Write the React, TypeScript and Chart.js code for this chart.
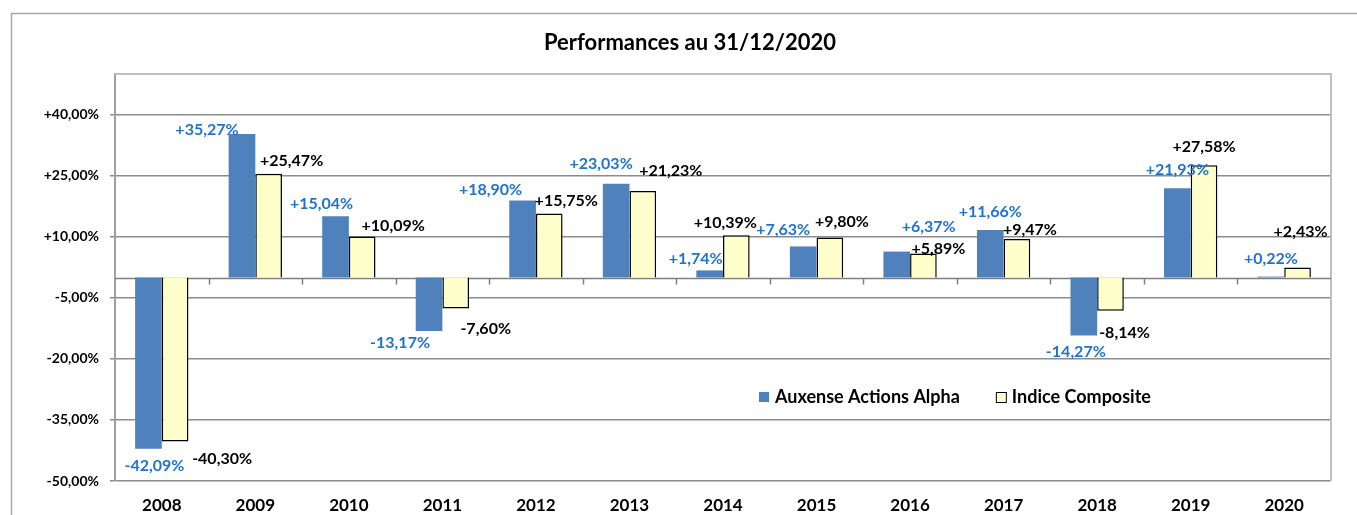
import React, { useEffect, useRef } from "react";
import { Chart, registerables } from "chart.js";

Chart.register(...registerables);

// ---- data ----
const YEARS = ["2008", "2009", "2010", "2011", "2012", "2013", "2014", "2015", "2016", "2017", "2018", "2019", "2020"];
const ALPHA = [-42.09, 35.27, 15.04, -13.17, 18.9, 23.03, 1.74, 7.63, 6.37, 11.66, -14.27, 21.93, 0.22];
const INDICE = [-40.3, 25.47, 10.09, -7.6, 15.75, 21.23, 10.39, 9.8, 5.89, 9.47, -8.14, 27.58, 2.43];
const Y_TICKS = [-50, -35, -20, -5, 10, 25, 40];
const Y_MIN = -50;
const Y_MAX = 50;
const SERIES_NAMES = ["Auxense Actions Alpha", "Indice Composite"];
const TITLE = "Performances au 31/12/2020";

// label nudges (px, relative to bar end)
const ALPHA_DX = [6, -35, -14, -29, -32, -15, -14, -20, 32, 0, -8, 0, 0];
const ALPHA_DY = [17, -4, -12, 12, -11, -20, -12, -17, -25, -18, 16, -18, -18];
const INDICE_DX = [47, 23, 31, 30, 17, 28, -11, 12, 15, 13, 14, 0, 3];
const INDICE_DY = [17, -13, -11, 20, -13, -20, -12, -16, -5, -9, 22, -18, -36];

const BLUE = "#4F81BD";
const YELLOW = "#FFFFCC";
const LABEL_BLUE = "#1F73CF";
const FONT = "Lato, 'Open Sans', sans-serif";

const W = 1357;
const H = 515;

const fmt = (v: number) => (v >= 0 ? "+" : "") + v.toFixed(2).replace(".", ",") + "%";

const decor = {
  id: "decor",
  beforeDraw(chart: any) {
    const ctx = chart.ctx;
    ctx.save();
    ctx.fillStyle = "#ffffff";
    ctx.fillRect(0, 0, W, H);
    ctx.strokeStyle = "#A6A6A6";
    ctx.lineWidth = 1.5;
    ctx.strokeRect(11.5, 13.5, W + 20, H + 20);
    ctx.fillStyle = "#000";
    ctx.font = `bold 22px ${FONT}`;
    ctx.textAlign = "center";
    ctx.textBaseline = "middle";
    ctx.fillText(TITLE, 690, 43);
    ctx.restore();
  },
  beforeDatasetsDraw(chart: any) {
    const ctx = chart.ctx;
    const a = chart.chartArea;
    const xs = chart.scales.x;
    const ys = chart.scales.y;
    ctx.save();
    // plot border top & right
    ctx.strokeStyle = "#BFBFBF";
    ctx.lineWidth = 2;
    ctx.beginPath();
    ctx.moveTo(a.left, a.top);
    ctx.lineTo(a.right, a.top);
    ctx.lineTo(a.right, a.bottom);
    ctx.stroke();
    // zero line with ticks
    const y0 = Math.round(ys.getPixelForValue(0)) + 0.5;
    ctx.strokeStyle = "#7F7F7F";
    ctx.lineWidth = 1.5;
    ctx.beginPath();
    ctx.moveTo(a.left, y0);
    ctx.lineTo(a.right, y0);
    for (let k = 1; k < YEARS.length; k++) {
      const bx = Math.round((xs.getPixelForTick(k - 1) + xs.getPixelForTick(k)) / 2) + 0.5;
      ctx.moveTo(bx, y0);
      ctx.lineTo(bx, y0 + 6);
    }
    ctx.stroke();
    ctx.restore();
  },
  afterDatasetsDraw(chart: any) {
    const ctx = chart.ctx;
    const a = chart.chartArea;
    ctx.save();
    ctx.font = `bold 16px ${FONT}`;
    ctx.textAlign = "center";
    ctx.textBaseline = "middle";
    const sets = [
      { data: ALPHA, dx: ALPHA_DX, dy: ALPHA_DY, color: LABEL_BLUE },
      { data: INDICE, dx: INDICE_DX, dy: INDICE_DY, color: "#000000" },
    ];
    sets.forEach((s, di) => {
      const meta = chart.getDatasetMeta(di);
      meta.data.forEach((bar: any, i: number) => {
        ctx.fillStyle = s.color;
        ctx.fillText(fmt(s.data[i]), bar.x + s.dx[i], bar.y + s.dy[i]);
      });
    });
    // legend
    ctx.font = `bold 18px ${FONT}`;
    ctx.textAlign = "left";
    const ly = a.top + 323;
    let lx = a.left + 644;
    ctx.fillStyle = BLUE;
    ctx.fillRect(lx, ly - 5, 10, 10);
    ctx.fillStyle = "#000";
    ctx.fillText(SERIES_NAMES[0], lx + 16, ly);
    lx = lx + 16 + ctx.measureText(SERIES_NAMES[0]).width + 36;
    ctx.fillStyle = YELLOW;
    ctx.fillRect(lx, ly - 5, 10, 10);
    ctx.strokeStyle = "#000";
    ctx.lineWidth = 1;
    ctx.strokeRect(lx + 0.5, ly - 4.5, 10, 10);
    ctx.fillStyle = "#000";
    ctx.fillText(SERIES_NAMES[1], lx + 16, ly);
    ctx.restore();
  },
};

export default function App() {
  const ref = useRef<HTMLCanvasElement | null>(null);
  useEffect(() => {
    let chart: Chart | null = null;
    let cancelled = false;
    const make = () => {
      if (cancelled || !ref.current) return;
      chart = new Chart(ref.current, {
        type: "bar",
        data: {
          labels: YEARS,
          datasets: [
            {
              label: SERIES_NAMES[0],
              data: ALPHA,
              backgroundColor: BLUE,
              borderWidth: 0,
              categoryPercentage: 0.57,
              barPercentage: 1,
            },
            {
              label: SERIES_NAMES[1],
              data: INDICE,
              backgroundColor: YELLOW,
              borderColor: "#000000",
              borderWidth: 1.5,
              categoryPercentage: 0.57,
              barPercentage: 1,
            },
          ],
        },
        options: {
          responsive: false,
          animation: false,
          layout: { padding: { top: 74, right: 26, left: 0, bottom: 0 } },
          plugins: {
            legend: { display: false },
            title: { display: false },
            tooltip: { enabled: false },
          },
          scales: {
            x: {
              grid: { display: false },
              border: { display: false },
              ticks: {
                color: "#000",
                font: { family: FONT, size: 17, weight: "bold" },
                padding: 6,
                maxRotation: 0,
              },
              afterFit(scale: any) {
                scale.height = 34;
              },
            },
            y: {
              min: Y_MIN,
              max: Y_MAX,
              afterBuildTicks(scale: any) {
                scale.ticks = Y_TICKS.map((v) => ({ value: v }));
              },
              afterFit(scale: any) {
                scale.width = 115;
              },
              grid: {
                color: "#8C8C8C",
                lineWidth: 1.5,
                tickLength: 5,
                drawTicks: true,
              },
              border: { display: true, color: "#A0A0A0", width: 2 },
              ticks: {
                color: "#000",
                font: { family: FONT, size: 14, weight: "bold" },
                padding: 11,
                callback: (v: any) => fmt(Number(v)),
              },
            },
          },
        },
        plugins: [decor],
      } as any);
    };
    const fonts: any = (document as any).fonts;
    if (fonts && fonts.load) {
      Promise.all([
        fonts.load(`bold 16px Lato`),
        fonts.load(`bold 22px Lato`),
      ]).then(make, make);
    } else make();
    return () => {
      cancelled = true;
      if (chart) chart.destroy();
    };
  }, []);
  return (
    <div style={{ position: "absolute", left: 0, top: 0, width: W, height: H }}>
      <canvas ref={ref} width={W} height={H} style={{ display: "block" }} />
    </div>
  );
}
